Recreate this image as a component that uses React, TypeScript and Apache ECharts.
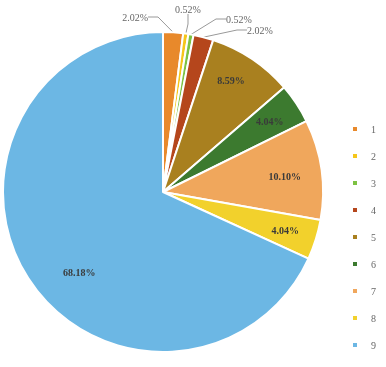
import React, { useEffect, useRef } from "react";
import * as echarts from "echarts";

const categories = ["1", "2", "3", "4", "5", "6", "7", "8", "9"];
const values = [2.02, 0.52, 0.52, 2.02, 8.59, 4.04, 10.1, 4.04, 68.18];
const colors = [
  "#E8892B",
  "#F5C61A",
  "#7DC243",
  "#B5461C",
  "#A9801F",
  "#3C7A2F",
  "#F0A75C",
  "#F2D12C",
  "#6CB7E4",
];
const outsideCount = 4;

// positions of the outside labels (layout only)
const outsideLabelLayout = [
  { x: 148, y: 17, align: "right" },
  { x: 188, y: 9, align: "center" },
  { x: 226, y: 19, align: "left" },
  { x: 247, y: 30, align: "left" },
];
// small nudges of the inside labels (layout only)
const insideLabelNudge: Record<number, { dx: number; dy: number }> = {
  4: { dx: -3, dy: -5 },
  6: { dx: -5, dy: 3 },
  8: { dx: 24, dy: 11 },
};

export default function App() {
  const ref = useRef<HTMLDivElement>(null);
  useEffect(() => {
    if (!ref.current) return;
    const chart = echarts.init(ref.current, null, { renderer: "svg" });
    const fmt = (p: any) => p.value.toFixed(2) + "%";
    chart.setOption({
      animation: false,
      color: colors,
      legend: {
        orient: "vertical",
        left: 346,
        top: 119,
        itemWidth: 6,
        itemHeight: 6,
        itemGap: 17,
        icon: "rect",
        data: categories,
        textStyle: {
          fontFamily: "Liberation Serif",
          fontSize: 10,
          lineHeight: 10,
          color: "#666",
          padding: [0, 0, 0, 8],
        },
      },
      series: [
        {
          type: "pie",
          center: [163, 192],
          radius: [0, 160],
          startAngle: 90,
          clockwise: true,
          avoidLabelOverlap: false,
          itemStyle: { borderColor: "#fff", borderWidth: 2 },
          labelLine: { lineStyle: { color: "#999", width: 1 } },
          labelLayout: (params: any) => {
            const a = outsideLabelLayout[params.dataIndex];
            if (!a) return {};
            return { x: a.x, y: a.y, align: a.align, verticalAlign: "middle" };
          },
          data: categories.map((c, i) => ({
            name: c,
            value: values[i],
            label: {
              show: i < outsideCount,
              position: "outside",
              formatter: fmt,
              fontFamily: "Liberation Serif",
              fontSize: 10,
              color: "#666",
            },
            labelLine: { show: i < outsideCount, length: 8, length2: 10 },
          })),
        },
        {
          type: "pie",
          center: [163, 192],
          radius: [90, 160],
          startAngle: 90,
          clockwise: true,
          silent: true,
          legendHoverLink: false,
          avoidLabelOverlap: false,
          itemStyle: { color: "rgba(0,0,0,0)" },
          labelLayout: (params: any) => {
            const n = insideLabelNudge[params.dataIndex];
            return n ? { dx: n.dx, dy: n.dy } : {};
          },
          data: categories.map((c, i) => ({
            name: c,
            value: values[i],
            label: {
              show: i >= outsideCount,
              position: "inside",
              formatter: fmt,
              fontFamily: "Liberation Serif",
              fontWeight: "bold",
              fontSize: 10,
              color: "#3a3a3a",
            },
            labelLine: { show: false },
          })),
        },
      ],
    });
    return () => chart.dispose();
  }, []);
  return (
    <div
      ref={ref}
      style={{ position: "fixed", left: 0, top: 0, width: 386, height: 367 }}
    />
  );
}
